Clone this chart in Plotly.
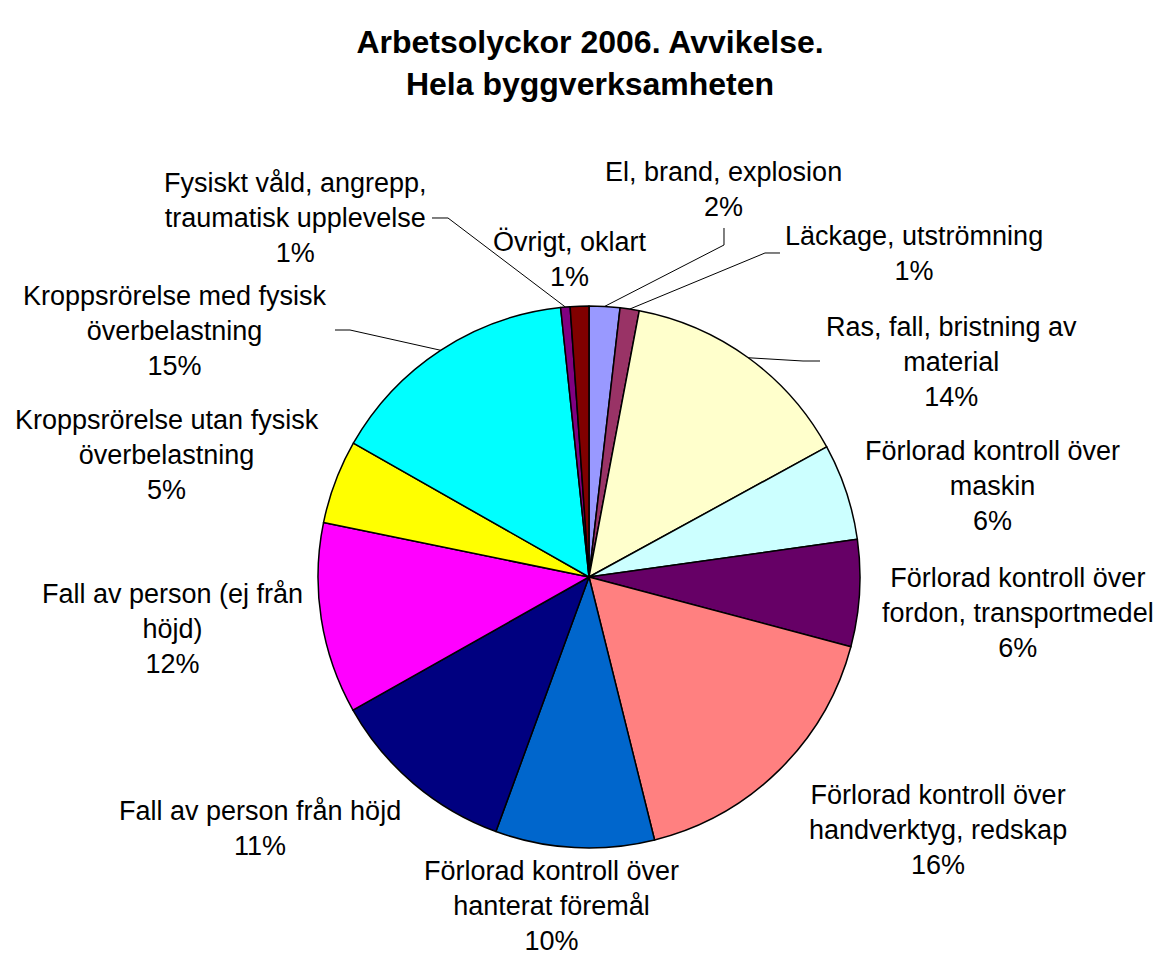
import math
import plotly.graph_objects as go

# ---------------- data ----------------
categories = [
    "El, brand, explosion",
    "Läckage, utströmning",
    "Ras, fall, bristning av material",
    "Förlorad kontroll över maskin",
    "Förlorad kontroll över fordon, transportmedel",
    "Förlorad kontroll över handverktyg, redskap",
    "Förlorad kontroll över hanterat föremål",
    "Fall av person från höjd",
    "Fall av person (ej från höjd)",
    "Kroppsrörelse utan fysisk överbelastning",
    "Kroppsrörelse med fysisk överbelastning",
    "Fysiskt våld, angrepp, traumatisk upplevelse",
    "Övrigt, oklart",
]
# shares (percent)
values = [1.83, 1.14, 14.06, 5.75, 6.36, 16.97, 9.47, 11.25, 11.39, 5.00, 15.11, 0.56, 1.11]
# percentages printed on the chart
pct_labels = ["2%", "1%", "14%", "6%", "6%", "16%", "10%", "11%", "12%", "5%", "15%", "1%", "1%"]
# label text as broken into lines on the chart
label_lines = [
    ["El, brand, explosion"],
    ["Läckage, utströmning"],
    ["Ras, fall, bristning av", "material"],
    ["Förlorad kontroll över", "maskin"],
    ["Förlorad kontroll över", "fordon, transportmedel"],
    ["Förlorad kontroll över", "handverktyg, redskap"],
    ["Förlorad kontroll över", "hanterat föremål"],
    ["Fall av person från höjd"],
    ["Fall av person (ej från", "höjd)"],
    ["Kroppsrörelse utan fysisk", "överbelastning"],
    ["Kroppsrörelse med fysisk", "överbelastning"],
    ["Fysiskt våld, angrepp,", "traumatisk upplevelse"],
    ["Övrigt, oklart"],
]
colors = ["#9999FF", "#993366", "#FFFFCC", "#CCFFFF", "#660066", "#FF8080", "#0066CC",
          "#000080", "#FF00FF", "#FFFF00", "#00FFFF", "#800080", "#800000"]

# ---------------- layout (pixels) ----------------
W, H = 1161, 956
PIE_CX, PIE_CY, PIE_R = 589, 577, 271
FONT = "Liberation Sans, Arial, sans-serif"
LABEL_SIZE = 27

# label block centres (px)
label_pos = [
    (723, 189), (914, 253), (951, 362), (992, 486), (1018, 613), (938, 830),
    (551, 906), (260, 828), (172, 629), (167, 455), (175, 331), (295, 218), (570, 259),
]
# leader line label-side points (px) for the slices that have one
leader_pts = {
    0: [(724, 228), (724, 245)],
    1: [(780, 253), (765, 253)],
    2: [(820, 361), (803, 361)],
    10: [(335, 330), (350, 330)],
    11: [(432, 218), (448, 218)],
}


def px(x):
    return x / W


def py(y):
    return 1 - y / H


fig = go.Figure(go.Pie(
    labels=categories,
    values=values,
    sort=False,
    direction="clockwise",
    rotation=0,
    marker=dict(colors=colors, line=dict(color="black", width=1.5)),
    textinfo="none",
    hoverinfo="label+percent",
    showlegend=False,
    domain=dict(x=[px(PIE_CX - PIE_R), px(PIE_CX + PIE_R)],
                y=[py(PIE_CY + PIE_R), py(PIE_CY - PIE_R)]),
))

annotations = []
for lines, pct, (lx, ly) in zip(label_lines, pct_labels, label_pos):
    annotations.append(dict(
        text="<br>".join(lines + [pct]),
        x=px(lx), y=py(ly), xref="paper", yref="paper",
        xanchor="center", yanchor="middle", align="center",
        showarrow=False,
        font=dict(family=FONT, size=LABEL_SIZE, color="black"),
    ))

# leader lines to the middle of each slice's edge
total = sum(values)
shapes = []
cum = 0.0
for i, v in enumerate(values):
    mid = (cum + v / 2) / total * 2 * math.pi
    cum += v
    if i in leader_pts:
        ex = PIE_CX + PIE_R * math.sin(mid)
        ey = PIE_CY - PIE_R * math.cos(mid)
        pts = leader_pts[i] + [(ex, ey)]
        path = "M " + " L ".join(f"{px(a):.5f},{py(b):.5f}" for a, b in pts)
        shapes.append(dict(type="path", path=path, xref="paper", yref="paper",
                           line=dict(color="black", width=1)))

fig.update_layout(
    width=W, height=H,
    margin=dict(l=0, r=0, t=0, b=0),
    paper_bgcolor="white", plot_bgcolor="white",
    title=dict(
        text="<b>Arbetsolyckor 2006. Avvikelse.<br>Hela byggverksamheten</b>",
        x=px(590), xanchor="center",
        y=py(53), yanchor="middle", yref="container",
        font=dict(family=FONT, size=32, color="black"),
    ),
    annotations=annotations,
    shapes=shapes,
)

fig.write_html("out.html",
               config={"displayModeBar": False},
               post_script="document.body.style.margin='0';document.body.style.overflow='hidden';")
